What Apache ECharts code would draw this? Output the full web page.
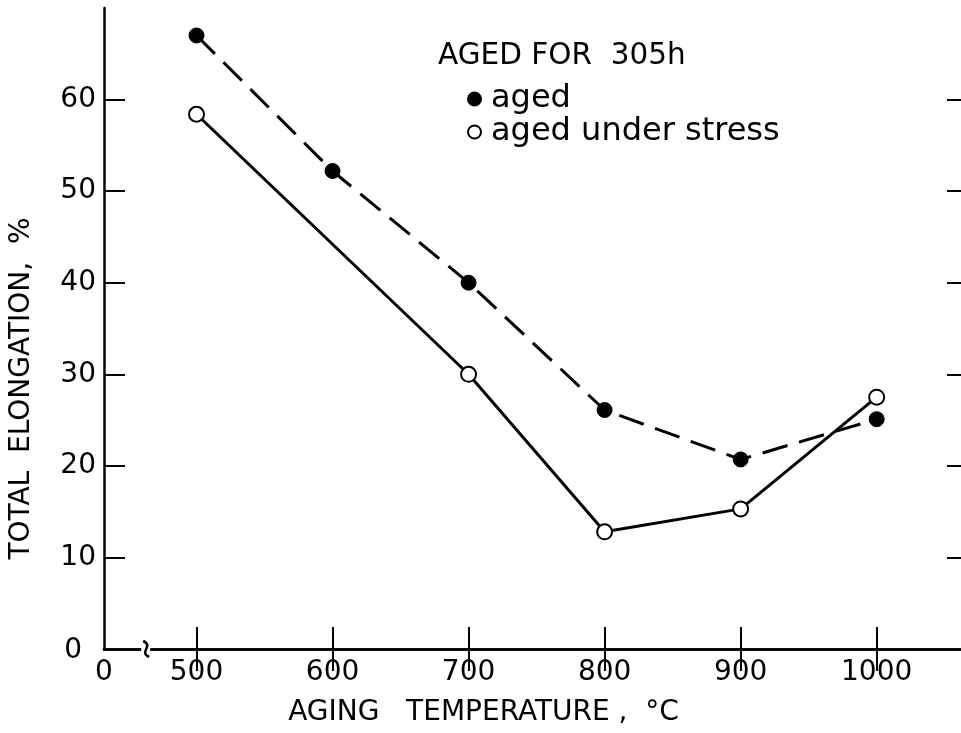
<!DOCTYPE html>
<html><head><meta charset="utf-8">
<script src="https://cdn.jsdelivr.net/npm/echarts@6/dist/echarts.min.js"></script>
<style>html,body{margin:0;padding:0;background:#fff}#c{width:961px;height:733px}</style>
</head><body><div id="c"></div>
<script>
// ---- data ----
const agedTemps = [500, 600, 700, 800, 900, 1000];
const agedValues = [67.0, 52.2, 40.0, 26.1, 20.7, 25.1];
const stressTemps = [500, 700, 800, 900, 1000];
const stressValues = [58.4, 30.0, 12.8, 15.3, 27.5];
const xTickValues = [500, 600, 700, 800, 900, 1000];
const xTickLabels = ['500', '600', '700', '800', '900', '1000'];
const yTickValues = [10, 20, 30, 40, 50, 60];
const yTickLabels = ['10', '20', '30', '40', '50', '60'];
const X_MIN = 432, X_MAX = 1062, BREAK_AT = 463;
const Y_MIN = 0, Y_MAX = 70;

const FONT = 'DejaVu Sans';
const xLabelValues = [X_MIN].concat(xTickValues);
const xLabelMap = {}; xLabelMap[X_MIN] = '0';
xTickValues.forEach((v, i) => xLabelMap[v] = xTickLabels[i]);
const yLabelValues = [0].concat(yTickValues);
const yLabelMap = {0: '{z|0}'};
yTickValues.forEach((v, i) => yLabelMap[v] = yTickLabels[i]);

const chart = echarts.init(document.getElementById('c'), null, {renderer: 'canvas'});
const lineW = 2.5;
chart.setOption({
  animation: false,
  backgroundColor: '#fff',
  textStyle: {fontFamily: FONT, color: '#000'},
  grid: {left: 104, right: 0, top: 8, bottom: 84, containLabel: false},
  title: {
    text: 'AGED FOR  305h', left: 433, top: 36,
    textStyle: {fontFamily: FONT, fontSize: 29.5, fontWeight: 'normal', color: '#000'}
  },
  legend: {
    data: [{name: 'aged', icon: 'circle'}, {name: 'aged under stress', icon: 'circle'}],
    orient: 'vertical', left: 462, top: 78, itemGap: 1,
    itemWidth: 13, itemHeight: 13,
    textStyle: {fontFamily: FONT, fontSize: 32, color: '#000', padding: [0, 0, 0, 5]}
  },
  xAxis: [{
    type: 'value', min: X_MIN, max: X_MAX, position: 'bottom',
    splitLine: {show: false},
    axisLine: {show: true, lineStyle: {color: '#000', width: lineW}},
    axisTick: {show: true, inside: true, length: 22, customValues: xTickValues, lineStyle: {color: '#000', width: 2}},
    axisLabel: {show: true, customValues: xLabelValues, margin: 10, fontFamily: FONT, fontSize: 28, color: '#000',
      formatter: v => xLabelMap[v] !== undefined ? xLabelMap[v] : ''},
    name: 'AGING   TEMPERATURE ,  °C', nameLocation: 'middle', nameGap: 50,
    nameTextStyle: {fontFamily: FONT, fontSize: 28, color: '#000', padding: [0, 98, 0, 0]}
  }, {
    type: 'value', min: X_MIN, max: X_MAX, position: 'top',
    splitLine: {show: false},
    axisLine: {show: true, lineStyle: {color: '#000', width: lineW}},
    axisTick: {show: true, inside: true, length: 22, customValues: xTickValues, lineStyle: {color: '#000', width: 2}},
    axisLabel: {show: false}
  }],
  yAxis: [{
    type: 'value', min: Y_MIN, max: Y_MAX, position: 'left',
    splitLine: {show: false},
    axisLine: {show: true, lineStyle: {color: '#000', width: lineW}},
    axisTick: {show: true, inside: true, length: 21, customValues: yTickValues, lineStyle: {color: '#000', width: 2}},
    axisLabel: {show: true, customValues: yLabelValues, margin: 8, fontFamily: FONT, fontSize: 28, color: '#000',
      formatter: v => yLabelMap[v] !== undefined ? yLabelMap[v] : '',
      rich: {z: {fontFamily: FONT, fontSize: 28, color: '#000', padding: [4, 14, 0, 0]}}},
    name: 'TOTAL  ELONGATION,  %', nameLocation: 'middle', nameGap: 68,
    nameTextStyle: {fontFamily: FONT, fontSize: 28, color: '#000', padding: [0, 120, 0, 0]}
  }, {
    type: 'value', min: Y_MIN, max: Y_MAX, position: 'right',
    splitLine: {show: false},
    axisLine: {show: false},
    axisTick: {show: true, inside: true, length: 14, customValues: yTickValues, lineStyle: {color: '#000', width: 2}},
    axisLabel: {show: false}
  }],
  series: [{
    name: 'aged', type: 'line', xAxisIndex: 0, yAxisIndex: 0,
    data: agedTemps.map((t, i) => [t, agedValues[i]]),
    symbol: 'circle', symbolSize: 15,
    itemStyle: {color: '#000', borderColor: '#000', borderWidth: 1},
    lineStyle: {color: '#000', width: 3, type: [26, 12]},
    z: 3
  }, {
    name: 'aged under stress', type: 'line', xAxisIndex: 0, yAxisIndex: 0,
    data: stressTemps.map((t, i) => [t, stressValues[i]]),
    symbol: 'circle', symbolSize: 15,
    itemStyle: {color: '#fff', borderColor: '#000', borderWidth: 2},
    lineStyle: {color: '#000', width: 3},
    z: 4
  }, {
    name: 'break', type: 'custom', xAxisIndex: 0, yAxisIndex: 0,
    data: [[BREAK_AT, Y_MIN]], clip: false, silent: true, z: 10,
    renderItem: (params, api) => {
      const p = api.coord([api.value(0), api.value(1)]);
      return {type: 'group', children: [
        {type: 'rect', shape: {x: p[0] - 5, y: p[1] - 3, width: 9, height: 6}, style: {fill: '#fff'}},
        {type: 'bezierCurve',
          shape: {x1: p[0] - 3, y1: p[1] - 8, x2: p[0] + 3, y2: p[1] + 8,
                  cpx1: p[0] + 8, cpy1: p[1] - 3, cpx2: p[0] - 8, cpy2: p[1] + 3},
          style: {stroke: '#000', lineWidth: 2.5, fill: null}}
      ]};
    }
  }]
});
</script>
</body></html>
